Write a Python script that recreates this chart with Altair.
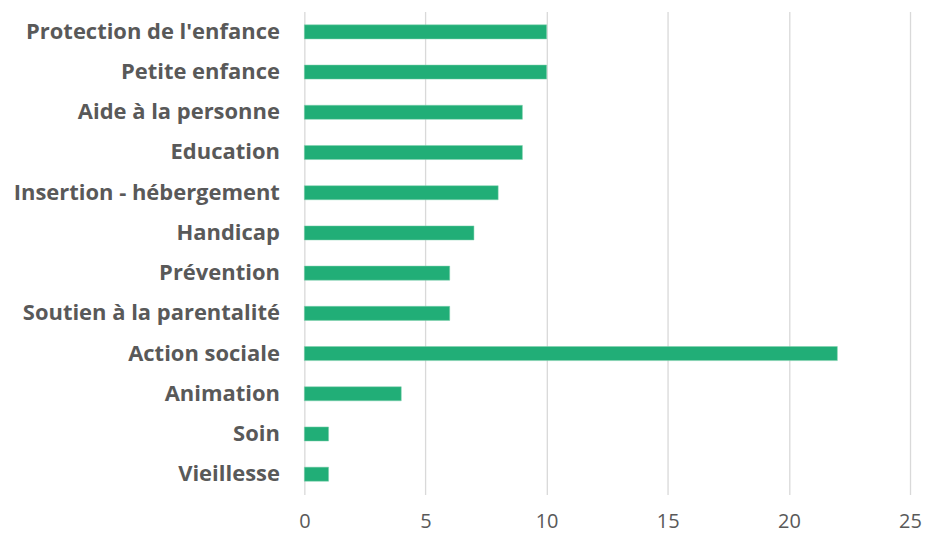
import altair as alt
import pandas as pd

categories = ["Protection de l'enfance", "Petite enfance", "Aide à la personne", "Education",
              "Insertion - hébergement", "Handicap", "Prévention", "Soutien à la parentalité",
              "Action sociale", "Animation", "Soin", "Vieillesse"]
values = [10, 10, 9, 9, 8, 7, 6, 6, 22, 4, 1, 1]
x_ticks = [0, 5, 10, 15, 20, 25]

df = pd.DataFrame({"cat": categories, "val": values})

chart = alt.Chart(df).mark_bar(color="#21AE77", stroke="#7fd0ae", strokeWidth=0.5).encode(
    y=alt.Y("cat:N", sort=categories, title=None,
            scale=alt.Scale(paddingInner=0.65, paddingOuter=0.33),
            axis=alt.Axis(domain=False, ticks=False, grid=False, labelFont="Open Sans",
                          labelFontWeight="bold", labelFontSize=22, labelColor="#595959",
                          labelPadding=25, labelLimit=400)),
    x=alt.X("val:Q", title=None, scale=alt.Scale(domain=[0, 25], nice=False),
            axis=alt.Axis(values=x_ticks, domain=False, ticks=False, grid=True,
                          gridColor="#d9d9d9", gridWidth=1.3, labelFont="Open Sans",
                          labelFontSize=20, labelColor="#595959", labelPadding=17,
                          labelFlush=False)),
).properties(
    width=607, height=484,
    autosize=alt.AutoSizeParams(type="none"),
    padding={"left": 297, "top": 3, "right": 12, "bottom": 38},
).configure(background="white").configure_view(stroke=None)

chart.save("out.html", embed_options={"renderer": "svg", "actions": False})
